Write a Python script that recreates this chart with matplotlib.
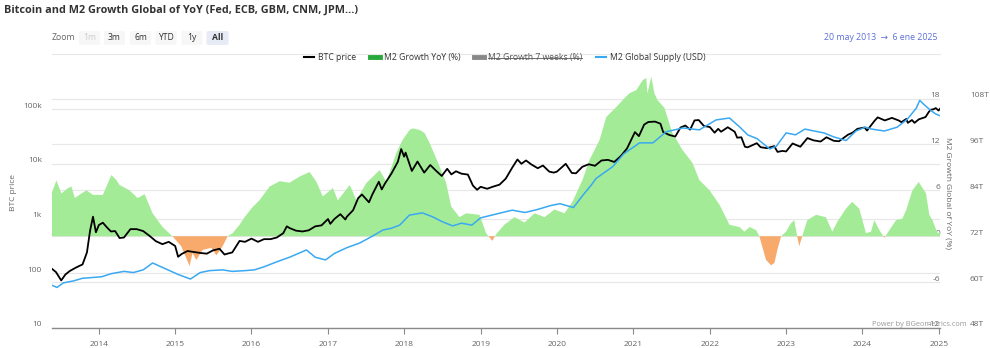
import numpy as np
import pandas as pd
import matplotlib
matplotlib.use('Agg')
import matplotlib.pyplot as plt
import matplotlib.dates as mdates
import matplotlib.transforms as mtransforms
from matplotlib.lines import Line2D
from matplotlib.patches import FancyBboxPatch

plt.rcParams['font.family'] = ['Open Sans', 'DejaVu Sans']
plt.rcParams['axes.unicode_minus'] = False

# ---- data ----
btc_dates = ['2013-05-20', '2013-06-10', '2013-07-05', '2013-07-25', '2013-08-15', '2013-09-15',
             '2013-10-15', '2013-11-05', '2013-11-20', '2013-12-04', '2013-12-18', '2014-01-01',
             '2014-01-20', '2014-02-10', '2014-02-28', '2014-03-20', '2014-04-10', '2014-05-01',
             '2014-06-01', '2014-07-01', '2014-08-01', '2014-09-01', '2014-10-01', '2014-11-01',
             '2014-12-01', '2015-01-01', '2015-01-15', '2015-02-01', '2015-03-01', '2015-04-01',
             '2015-05-01', '2015-06-01', '2015-07-01', '2015-08-01', '2015-08-25', '2015-09-15',
             '2015-10-01', '2015-11-05', '2015-12-01', '2016-01-01', '2016-02-01', '2016-03-01',
             '2016-04-01', '2016-05-01', '2016-06-01', '2016-06-18', '2016-07-01', '2016-08-01',
             '2016-09-01', '2016-10-01', '2016-11-01', '2016-12-01', '2017-01-01', '2017-01-12',
             '2017-02-01', '2017-03-01', '2017-03-25', '2017-04-01', '2017-05-01', '2017-05-25',
             '2017-06-12', '2017-07-16', '2017-08-01', '2017-09-01', '2017-09-15', '2017-10-01',
             '2017-11-01', '2017-12-01', '2017-12-17', '2017-12-31', '2018-01-07', '2018-02-06',
             '2018-03-05', '2018-04-06', '2018-05-05', '2018-06-01', '2018-06-29', '2018-07-25',
             '2018-08-14', '2018-09-05', '2018-10-01', '2018-11-01', '2018-11-25', '2018-12-15',
             '2019-01-01', '2019-02-01', '2019-03-01', '2019-04-01', '2019-05-01', '2019-06-01',
             '2019-06-26', '2019-07-15', '2019-08-06', '2019-09-01', '2019-10-01', '2019-10-26',
             '2019-11-25', '2019-12-17', '2020-01-01', '2020-02-12', '2020-03-12', '2020-04-01',
             '2020-05-01', '2020-06-01', '2020-07-01', '2020-08-01', '2020-09-01', '2020-10-01',
             '2020-11-01', '2020-12-01', '2021-01-08', '2021-01-27', '2021-02-21', '2021-03-13',
             '2021-04-14', '2021-05-10', '2021-05-23', '2021-06-22', '2021-07-20', '2021-08-14',
             '2021-09-06', '2021-09-29', '2021-10-20', '2021-11-09', '2021-12-04', '2022-01-01',
             '2022-01-24', '2022-02-10', '2022-02-24', '2022-03-28', '2022-04-30', '2022-05-12',
             '2022-06-01', '2022-06-18', '2022-07-01', '2022-08-14', '2022-09-01', '2022-10-01',
             '2022-11-05', '2022-11-21', '2022-12-15', '2023-01-01', '2023-02-01', '2023-03-10',
             '2023-04-13', '2023-05-12', '2023-06-15', '2023-07-13', '2023-08-17', '2023-09-11',
             '2023-10-24', '2023-11-15', '2023-12-08', '2024-01-11', '2024-01-23', '2024-02-28',
             '2024-03-14', '2024-04-17', '2024-05-21', '2024-06-24', '2024-07-05', '2024-07-29',
             '2024-08-05', '2024-08-25', '2024-09-06', '2024-09-27', '2024-10-29', '2024-11-12',
             '2024-11-22', '2024-12-05', '2024-12-17', '2024-12-30', '2025-01-06']
btc_price = [122, 105, 74, 95, 110, 128,
             145, 240, 600, 1080, 560, 760,
             840, 680, 580, 590, 440, 450,
             640, 640, 590, 480, 385, 340,
             375, 315, 200, 225, 255, 245,
             235, 228, 262, 280, 220, 232,
             240, 390, 375, 430, 375, 420,
             420, 450, 540, 720, 670, 600,
             580, 610, 720, 750, 980, 800,
             985, 1200, 960, 1080, 1420, 2350,
             2750, 1980, 2750, 4700, 3400, 4400,
             6700, 10900, 18600, 13500, 16000, 7400,
             11000, 6900, 9500, 7500, 6000, 8100,
             6400, 7300, 6600, 6350, 4000, 3350,
             3800, 3500, 3820, 4150, 5350, 8500,
             12000, 10000, 11500, 9700, 8300, 9300,
             7200, 6900, 7200, 10000, 6800, 6700,
             8800, 9800, 9200, 11500, 11800, 10800,
             13800, 19000, 38000, 32000, 52000, 58000,
             59000, 54000, 38000, 33500, 31500, 46000,
             50000, 42000, 62000, 63000, 49000, 47000,
             37000, 43500, 38500, 46500, 38500, 30000,
             30500, 20500, 20000, 23800, 20100, 19300,
             21000, 16500, 17200, 16800, 23500, 20500,
             29500, 26800, 25500, 30500, 26300, 25800,
             34000, 37000, 43500, 46000, 40500, 61000,
             70500, 62000, 69000, 61500, 57500, 66000,
             56000, 63000, 56000, 65000, 71500, 87000,
             97000, 99000, 104000, 94000, 101000]

m2g_dates = ['2013-05-20', '2013-06-12', '2013-07-06', '2013-08-07', '2013-08-23', '2013-09-08',
             '2013-10-10', '2013-11-03', '2013-12-04', '2014-01-20', '2014-03-02', '2014-03-26',
             '2014-04-10', '2014-05-28', '2014-07-05', '2014-08-08', '2014-09-15', '2014-11-02',
             '2014-12-19', '2015-01-30', '2015-03-11', '2015-03-25', '2015-04-12', '2015-05-12',
             '2015-06-23', '2015-07-17', '2015-08-16', '2015-09-09', '2015-10-03', '2015-11-05',
             '2015-11-29', '2016-01-06', '2016-02-08', '2016-03-28', '2016-05-15', '2016-07-01',
             '2016-08-18', '2016-10-05', '2016-11-07', '2016-12-07', '2017-01-24', '2017-02-17',
             '2017-04-15', '2017-05-17', '2017-07-03', '2017-09-05', '2017-10-07', '2017-11-24',
             '2017-12-24', '2018-01-26', '2018-02-10', '2018-03-15', '2018-04-08', '2018-05-02',
             '2018-06-19', '2018-07-20', '2018-08-13', '2018-09-22', '2018-10-24', '2018-12-27',
             '2019-01-27', '2019-02-26', '2019-03-17', '2019-04-24', '2019-06-12', '2019-07-30',
             '2019-09-16', '2019-11-03', '2019-12-20', '2020-02-06', '2020-03-15', '2020-05-02',
             '2020-06-05', '2020-07-23', '2020-08-24', '2020-10-11', '2020-11-10', '2020-12-13',
             '2021-01-14', '2021-02-14', '2021-03-03', '2021-03-09', '2021-03-27', '2021-04-11',
             '2021-04-26', '2021-05-29', '2021-07-06', '2021-08-23', '2021-10-10', '2021-11-12',
             '2021-12-31', '2022-02-17', '2022-04-05', '2022-05-23', '2022-06-16', '2022-07-10',
             '2022-08-11', '2022-08-26', '2022-09-27', '2022-10-21', '2022-11-06', '2022-11-20',
             '2022-12-08', '2023-01-01', '2023-01-24', '2023-02-09', '2023-02-23', '2023-03-05',
             '2023-03-19', '2023-04-12', '2023-05-24', '2023-07-10', '2023-08-10', '2023-09-03',
             '2023-10-14', '2023-11-13', '2023-12-17', '2024-01-18', '2024-02-11', '2024-02-27',
             '2024-03-22', '2024-04-15', '2024-05-09', '2024-06-10', '2024-07-10', '2024-07-28',
             '2024-08-27', '2024-09-26', '2024-10-31', '2024-11-16', '2024-12-01', '2024-12-25',
             '2025-01-06']
m2g_yoy = [5.6, 7.3, 5.6, 6.3, 6.5, 5.0,
           5.6, 6.0, 5.4, 5.4, 8.0, 7.35,
           6.7, 6.0, 5.0, 5.5, 3.0, 1.2,
           0.0, -1.3, -3.9, -2.2, -3.1, -1.8,
           -1.5, -2.5, -1.3, 0.0, 0.4, 1.5,
           2.5, 3.8, 4.7, 6.5, 7.2, 7.0,
           7.8, 8.4, 7.1, 5.2, 6.3, 4.7,
           6.7, 4.7, 6.95, 8.65, 7.1, 10.9,
           12.6, 13.9, 14.1, 13.9, 13.5, 12.2,
           9.1, 7.0, 3.9, 2.5, 3.0, 2.8,
           0.4, -0.6, 0.3, 1.5, 2.5, 1.8,
           3.0, 2.5, 3.5, 3.0, 4.5, 7.35,
           10.0, 12.6, 15.6, 16.9, 17.8, 18.7,
           19.1, 20.4, 20.7, 18.7, 20.9, 18.7,
           17.8, 16.8, 13.5, 11.3, 9.6, 7.35,
           6.0, 4.1, 1.5, 1.2, 0.6, 1.2,
           0.8, 0.0, -3.1, -3.8, -3.5, -1.8,
           0.0, 0.6, 1.7, 2.1, 0.0, -1.3,
           0.0, 2.1, 2.8, 2.5, 0.6, 1.9,
           3.6, 4.5, 3.6, 0.4, 0.6, 2.1,
           0.8, -0.2, 0.8, 2.1, 2.3, 3.4,
           6.0, 7.1, 5.6, 2.8, 2.1, 0.4,
           0.5]

m2s_dates = ['2013-05-20', '2013-06-15', '2013-07-15', '2013-09-01', '2013-10-15', '2013-12-01',
             '2014-01-15', '2014-03-01', '2014-05-01', '2014-06-15', '2014-08-01', '2014-09-15',
             '2014-11-15', '2015-01-15', '2015-03-15', '2015-05-01', '2015-06-15', '2015-08-15',
             '2015-10-01', '2015-12-01', '2016-01-15', '2016-03-01', '2016-05-01', '2016-07-01',
             '2016-09-20', '2016-11-01', '2016-12-20', '2017-02-01', '2017-04-01', '2017-06-01',
             '2017-08-01', '2017-09-20', '2017-11-01', '2017-12-10', '2018-01-25', '2018-03-28',
             '2018-05-15', '2018-07-01', '2018-08-20', '2018-10-01', '2018-11-20', '2019-01-01',
             '2019-04-01', '2019-06-01', '2019-08-01', '2019-10-01', '2019-12-01', '2020-01-15',
             '2020-03-20', '2020-05-01', '2020-06-15', '2020-07-06', '2020-09-24', '2020-11-15',
             '2021-01-30', '2021-04-04', '2021-06-06', '2021-08-25', '2021-11-12', '2022-01-31',
             '2022-04-05', '2022-05-23', '2022-07-01', '2022-08-15', '2022-10-15', '2022-11-15',
             '2023-01-01', '2023-02-15', '2023-04-01', '2023-05-15', '2023-07-01', '2023-08-15',
             '2023-10-15', '2023-12-01', '2024-01-15', '2024-02-15', '2024-04-15', '2024-06-15',
             '2024-08-01', '2024-09-15', '2024-10-01', '2024-10-20', '2024-11-20', '2024-12-15',
             '2025-01-06']
m2s_usd = [59.2, 58.6, 59.8, 60.3, 61.0, 61.2,
           61.4, 62.2, 62.8, 62.5, 63.2, 65.0,
           63.5, 62.0, 60.8, 62.5, 63.0, 63.2,
           62.8, 63.0, 63.2, 64.0, 65.3, 66.5,
           68.4, 66.5, 65.8, 67.5, 69.0, 70.2,
           72.0, 73.6, 74.1, 74.9, 77.5, 78.1,
           77.1, 75.8, 74.7, 75.4, 74.9, 76.8,
           78.0, 78.8, 78.2, 79.0, 80.0, 80.5,
           79.5, 82.5, 85.5, 87.1, 90.2, 93.5,
           96.4, 96.4, 99.3, 100.3, 99.8, 102.4,
           102.9, 100.6, 98.5, 97.5, 94.8, 95.5,
           99.0, 98.5, 100.0, 99.5, 99.0, 98.0,
           97.0, 99.5, 100.5, 100.0, 99.5, 100.5,
           102.5, 105.5, 107.5, 106.5, 105.0, 104.0,
           103.5]

btc_ticks = [10, 100, 1000, 10000, 100000]
btc_tick_labels = ['10', '100', '1k', '10k', '100k']
growth_ticks = [-12, -6, 0, 6, 12, 18]
supply_ticks = [48, 60, 72, 84, 96, 108]
supply_tick_labels = ['48T', '60T', '72T', '84T', '96T', '108T']
year_ticks = [str(y) for y in range(2014, 2026)]
buttons = ['1m', '3m', '6m', 'YTD', '1y', 'All']

GREEN = '#a4eb97'
ORANGE = '#f7aa6c'
BLUE = '#3aa8f2'
GRID = '#e8e8e8'
LABEL = '#666666'

bt = mdates.date2num(pd.to_datetime(btc_dates))
gt = mdates.date2num(pd.to_datetime(m2g_dates))
st = mdates.date2num(pd.to_datetime(m2s_dates))
gy = np.array(m2g_yoy)

W, H = 990, 348
fig = plt.figure(figsize=(W / 100, H / 100), dpi=100)
rect = [51.6 / W, 20 / H, (940 - 51.6) / W, 260 / H]

# bottom axes: log grid for BTC + left labels + x axis
ax = fig.add_axes(rect)
ax.set_yscale('log')
ax.set_ylim(10, 10 ** 5.75)
ax.set_yticks(btc_ticks)
ax.set_yticklabels(btc_tick_labels)
ax.minorticks_off()
ax.grid(axis='y', color=GRID, lw=0.9)
ax.tick_params(axis='y', length=0, pad=7, labelsize=6, labelcolor=LABEL)
ax.set_ylabel('BTC price', fontsize=6, color=LABEL)
ax.yaxis.set_label_coords(-0.039, 0.52)
xt = mdates.date2num(pd.to_datetime([y + '-01-01' for y in year_ticks]))
ax.set_xticks(xt)
ax.set_xticklabels(year_ticks)
ax.set_xlim(mdates.date2num(pd.Timestamp('2013-05-20')), mdates.date2num(pd.Timestamp('2025-01-06')))
ax.tick_params(axis='x', length=4, width=0.8, color='#8a8a8a', pad=5, labelsize=6, labelcolor=LABEL)
for s in ['top', 'left', 'right']:
    ax.spines[s].set_visible(False)
ax.spines['bottom'].set_color('#8a8a8a')
ax.spines['bottom'].set_linewidth(1)

# growth area
axg = ax.twinx()
axg.set_ylim(-12, 22)
axg.set_yticks(growth_ticks)
axg.grid(axis='y', color=GRID, lw=0.9)
axg.set_axisbelow(True)
axg.fill_between(gt, 0, gy, where=gy >= 0, interpolate=True, color=GREEN, lw=0)
axg.fill_between(gt, 0, gy, where=gy <= 0, interpolate=True, color=ORANGE, lw=0)
axg.yaxis.tick_right()
axg.tick_params(axis='y', length=0, pad=0, labelsize=6, labelcolor=LABEL)
for t in axg.yaxis.get_major_ticks():
    t.label2.set_ha('right')
axg.set_ylabel('M2 Growth Global of YoY (%)', fontsize=6, color=LABEL, rotation=270, va='center')
axg.yaxis.set_label_position('right')
axg.yaxis.set_label_coords(1.0125, 0.52)

# BTC line
axb = ax.twinx()
axb.set_yscale('log')
axb.set_ylim(10, 10 ** 5.75)
axb.plot(bt, btc_price, color='black', lw=1.3)
axb.set_yticks([])
axb.minorticks_off()

# M2 supply line
axm = ax.twinx()
axm.set_ylim(48, 48 + 260 / 229.5 * 60)
axm.plot(st, m2s_usd, color=BLUE, lw=1.1)
axm.set_yticks(supply_ticks)
axm.set_yticklabels(supply_tick_labels)
axm.tick_params(axis='y', length=0, pad=21.5, labelsize=6, labelcolor=LABEL)

for a in [ax, axg, axb, axm]:
    for s in ['top', 'left', 'right']:
        a.spines[s].set_visible(False)
for a in [axg, axb, axm]:
    a.spines['bottom'].set_visible(False)

# lift y tick labels a bit like the original
lift = mtransforms.ScaledTranslation(0, 4 / 100, fig.dpi_scale_trans)
for a in [ax, axg, axm]:
    for t in a.yaxis.get_major_ticks():
        t.label1.set_transform(t.label1.get_transform() + lift)
        t.label2.set_transform(t.label2.get_transform() + lift)

# title, zoom buttons, date range
fig.text(4 / W, 1 - 10 / H, 'Bitcoin and M2 Growth Global of YoY (Fed, ECB, GBM, CNM, JPM...)',
         fontsize=7.8, fontweight='bold', color='#333333', va='center')
fig.text(52 / W, 1 - 38 / H, 'Zoom', fontsize=6.2, color=LABEL, va='center')
bx = [79, 104, 130, 155.5, 181.5, 206.5]
bw = [21, 21, 21, 21, 21, 22]
for name, x0, w in zip(buttons, bx, bw):
    fc = '#e6ebf5' if name == 'All' else '#f7f7f7'
    fig.add_artist(FancyBboxPatch((x0 / W, 1 - 45 / H), w / W, 14 / H,
                                  boxstyle='round,pad=0,rounding_size=0.003',
                                  transform=fig.transFigure, fc=fc, ec='none'))
    col = '#cccccc' if name == '1m' else '#333333'
    fig.text((x0 + w / 2) / W, 1 - 38 / H, name, fontsize=6.2, color=col, ha='center', va='center',
             fontweight='bold' if name == 'All' else 'normal')
fig.text(937 / W, 1 - 37 / H, '20 may 2013  \u2192  6 ene 2025', fontsize=6.3, color='#5c6fd9',
         ha='right', va='center')
fig.add_artist(Line2D([52 / W, 940 / W], [1 - 54 / H] * 2, color=GRID, lw=0.8, transform=fig.transFigure))

# legend
handles = [Line2D([], [], color='black', lw=1.5),
           Line2D([], [], color='#27a83a', lw=3.5),
           Line2D([], [], color='#888888', lw=3.5),
           Line2D([], [], color=BLUE, lw=1.5)]
names = ['BTC price', 'M2 Growth YoY (%)', 'M2 Growth 7 weeks (%)', 'M2 Global Supply (USD)']
leg = fig.legend(handles, names, loc='center', bbox_to_anchor=(505 / W, 1 - 57.5 / H), ncol=4,
                 frameon=False, fontsize=6.2, handlelength=1.1, handletextpad=0.5,
                 columnspacing=1.6, borderpad=0)
for txt in leg.get_texts():
    txt.set_color('#333333')
leg.get_texts()[2].set_color('#555555')

fig.text(872 / W, 1 - 324 / H, 'Power by BGeometrics.com', fontsize=5.3, color='#999999', va='center')

fig.canvas.draw()
bb = leg.get_texts()[2].get_window_extent().transformed(fig.transFigure.inverted())
ym = (bb.y0 + bb.y1) / 2
fig.add_artist(Line2D([bb.x0, bb.x1], [ym, ym], color='#555555', lw=0.6, transform=fig.transFigure))

fig.savefig('out.png', dpi=100)
